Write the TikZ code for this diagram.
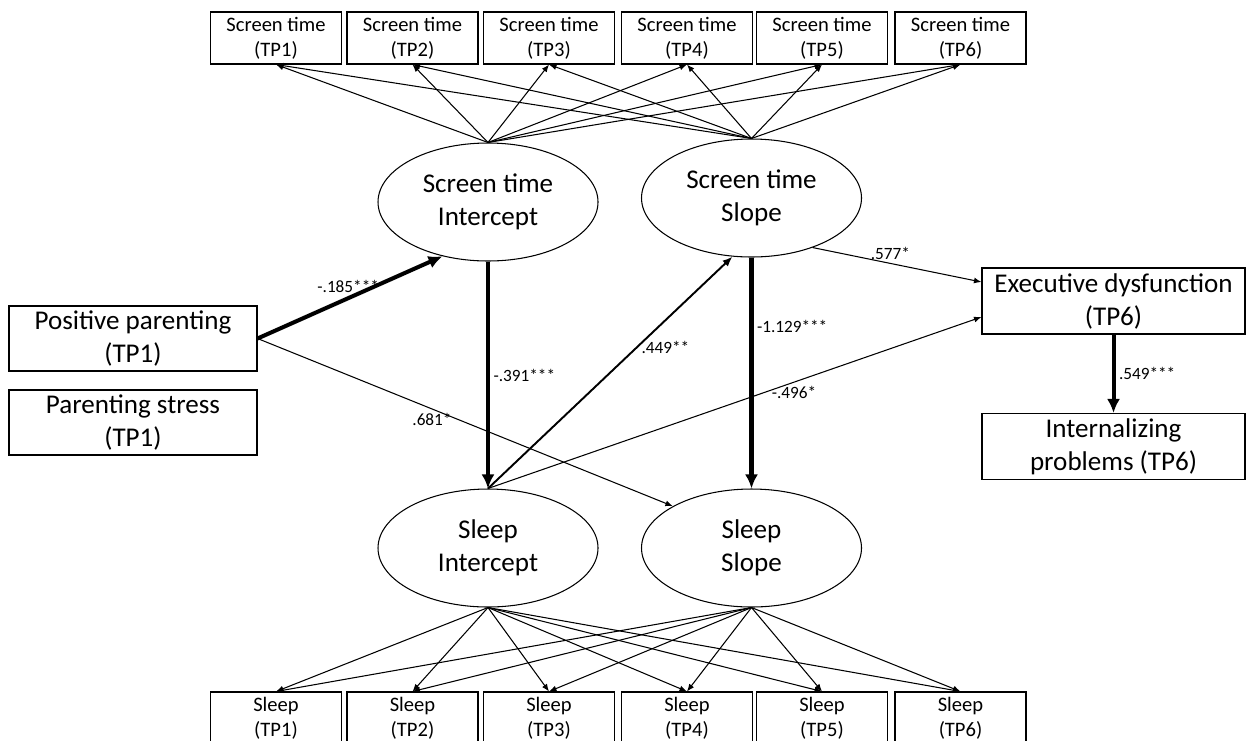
\documentclass[tikz,border=0pt]{standalone}
\usepackage{fontspec}
\setmainfont{Carlito}
\usetikzlibrary{shapes,arrows.meta,positioning}

\begin{document}
\begin{tikzpicture}[
    obs/.style={rectangle, draw, line width=0.6pt, minimum width=2.62cm, minimum height=1.04cm, inner sep=0pt, align=center, font=\fontsize{11.7}{14.2}\selectfont},
    block/.style={rectangle, draw, line width=0.6pt, minimum width=5.26cm, minimum height=1.32cm, inner sep=0pt, align=center, font=\fontsize{15.4}{18.8}\selectfont},
    latent/.style={ellipse, draw, line width=0.6pt, minimum width=4.4cm, minimum height=2.36cm, inner sep=0pt, align=center, font=\fontsize{15.4}{18.8}\selectfont},
    arrow/.style={-{Latex[length=0.15cm, width=0.12cm]}, line width=0.6pt},
    midarrow/.style={-{Latex[length=0.2cm, width=0.16cm]}, line width=1.1pt},
    boldarrow/.style={-{Latex[length=0.28cm, width=0.26cm]}, line width=2.3pt},
    coef/.style={font=\fontsize{9.8}{11}\selectfont, inner sep=2pt}
]
\useasboundingbox (0,0) rectangle (24.98,-14.8);

% Screen time measures
\node[obs] (st1) at (5.52,-0.76) {Screen time\\(TP1)};
\node[obs] (st2) at (8.25,-0.76) {Screen time\\(TP2)};
\node[obs] (st3) at (10.98,-0.76) {Screen time\\(TP3)};
\node[obs] (st4) at (13.74,-0.76) {Screen time\\(TP4)};
\node[obs] (st5) at (16.44,-0.76) {Screen time\\(TP5)};
\node[obs] (st6) at (19.21,-0.76) {Screen time\\(TP6)};

% Sleep measures
\node[obs] (sl1) at (5.52,-14.36) {Sleep\\(TP1)};
\node[obs] (sl2) at (8.25,-14.36) {Sleep\\(TP2)};
\node[obs] (sl3) at (10.98,-14.36) {Sleep\\(TP3)};
\node[obs] (sl4) at (13.74,-14.36) {Sleep\\(TP4)};
\node[obs] (sl5) at (16.44,-14.36) {Sleep\\(TP5)};
\node[obs] (sl6) at (19.21,-14.36) {Sleep\\(TP6)};

% Growth factors
\node[latent] (sti) at (9.76,-4.04) {Screen time\\Intercept};
\node[latent] (sts) at (15.03,-3.96) {Screen time\\Slope};
\node[latent] (sli) at (9.76,-10.96) {Sleep\\Intercept};
\node[latent] (sls) at (15.03,-10.96) {Sleep\\Slope};

% Predictors and outcomes
\node[block, minimum width=4.96cm, minimum height=1.3cm] (pp) at (2.66,-6.77) {Positive parenting\\(TP1)};
\node[block, minimum width=4.96cm, minimum height=1.3cm] (ps) at (2.66,-8.45) {Parenting stress\\(TP1)};
\node[block] (ed) at (22.27,-6.02) {Executive dysfunction\\(TP6)};
\node[block] (ip) at (22.27,-8.93) {Internalizing\\problems (TP6)};

% Loadings, screen time
\draw[arrow] (sti.north) -- (st1.south);
\draw[arrow] (sti.north) -- (st2.south);
\draw[arrow] (sti.north) -- (st3.south);
\draw[arrow] (sti.north) -- (st4.south);
\draw[arrow] (sti.north) -- (st5.south);
\draw[arrow] (sti.north) -- (st6.south);
\draw[arrow] (sts.north) -- (st1.south);
\draw[arrow] (sts.north) -- (st2.south);
\draw[arrow] (sts.north) -- (st3.south);
\draw[arrow] (sts.north) -- (st4.south);
\draw[arrow] (sts.north) -- (st5.south);
\draw[arrow] (sts.north) -- (st6.south);

% Loadings, sleep
\draw[arrow] (sli.south) -- (sl1.north);
\draw[arrow] (sli.south) -- (sl2.north);
\draw[arrow] (sli.south) -- (sl3.north);
\draw[arrow] (sli.south) -- (sl4.north);
\draw[arrow] (sli.south) -- (sl5.north);
\draw[arrow] (sli.south) -- (sl6.north);
\draw[arrow] (sls.south) -- (sl1.north);
\draw[arrow] (sls.south) -- (sl2.north);
\draw[arrow] (sls.south) -- (sl3.north);
\draw[arrow] (sls.south) -- (sl4.north);
\draw[arrow] (sls.south) -- (sl5.north);
\draw[arrow] (sls.south) -- (sl6.north);

% Structural paths
\draw[boldarrow] (pp.east) -- node[coef, pos=0.49, above] {-.185***} (sti.230);
\draw[arrow] (pp.east) -- node[coef, pos=0.42, below] {.681*} (sls.152);
\draw[boldarrow] (sti.south) -- node[coef, right] {-.391***} (sli.north);
\draw[midarrow] (sli.north) -- node[coef, pos=0.61, right] {.449**} (sts.252);
\draw[boldarrow] (sts.south) -- node[coef, pos=0.3, right] {-1.129***} (sls.north);
\draw[arrow] (sts.321) -- node[coef, pos=0.46, above] {.577*} ([yshift=0.38cm]ed.west);
\draw[arrow] (sli.north) -- node[coef, pos=0.62, below] {-.496*} ([yshift=-0.32cm]ed.west);
\draw[boldarrow] (ed.south) -- node[coef, right] {.549***} (ip.north);

\end{tikzpicture}
\end{document}
